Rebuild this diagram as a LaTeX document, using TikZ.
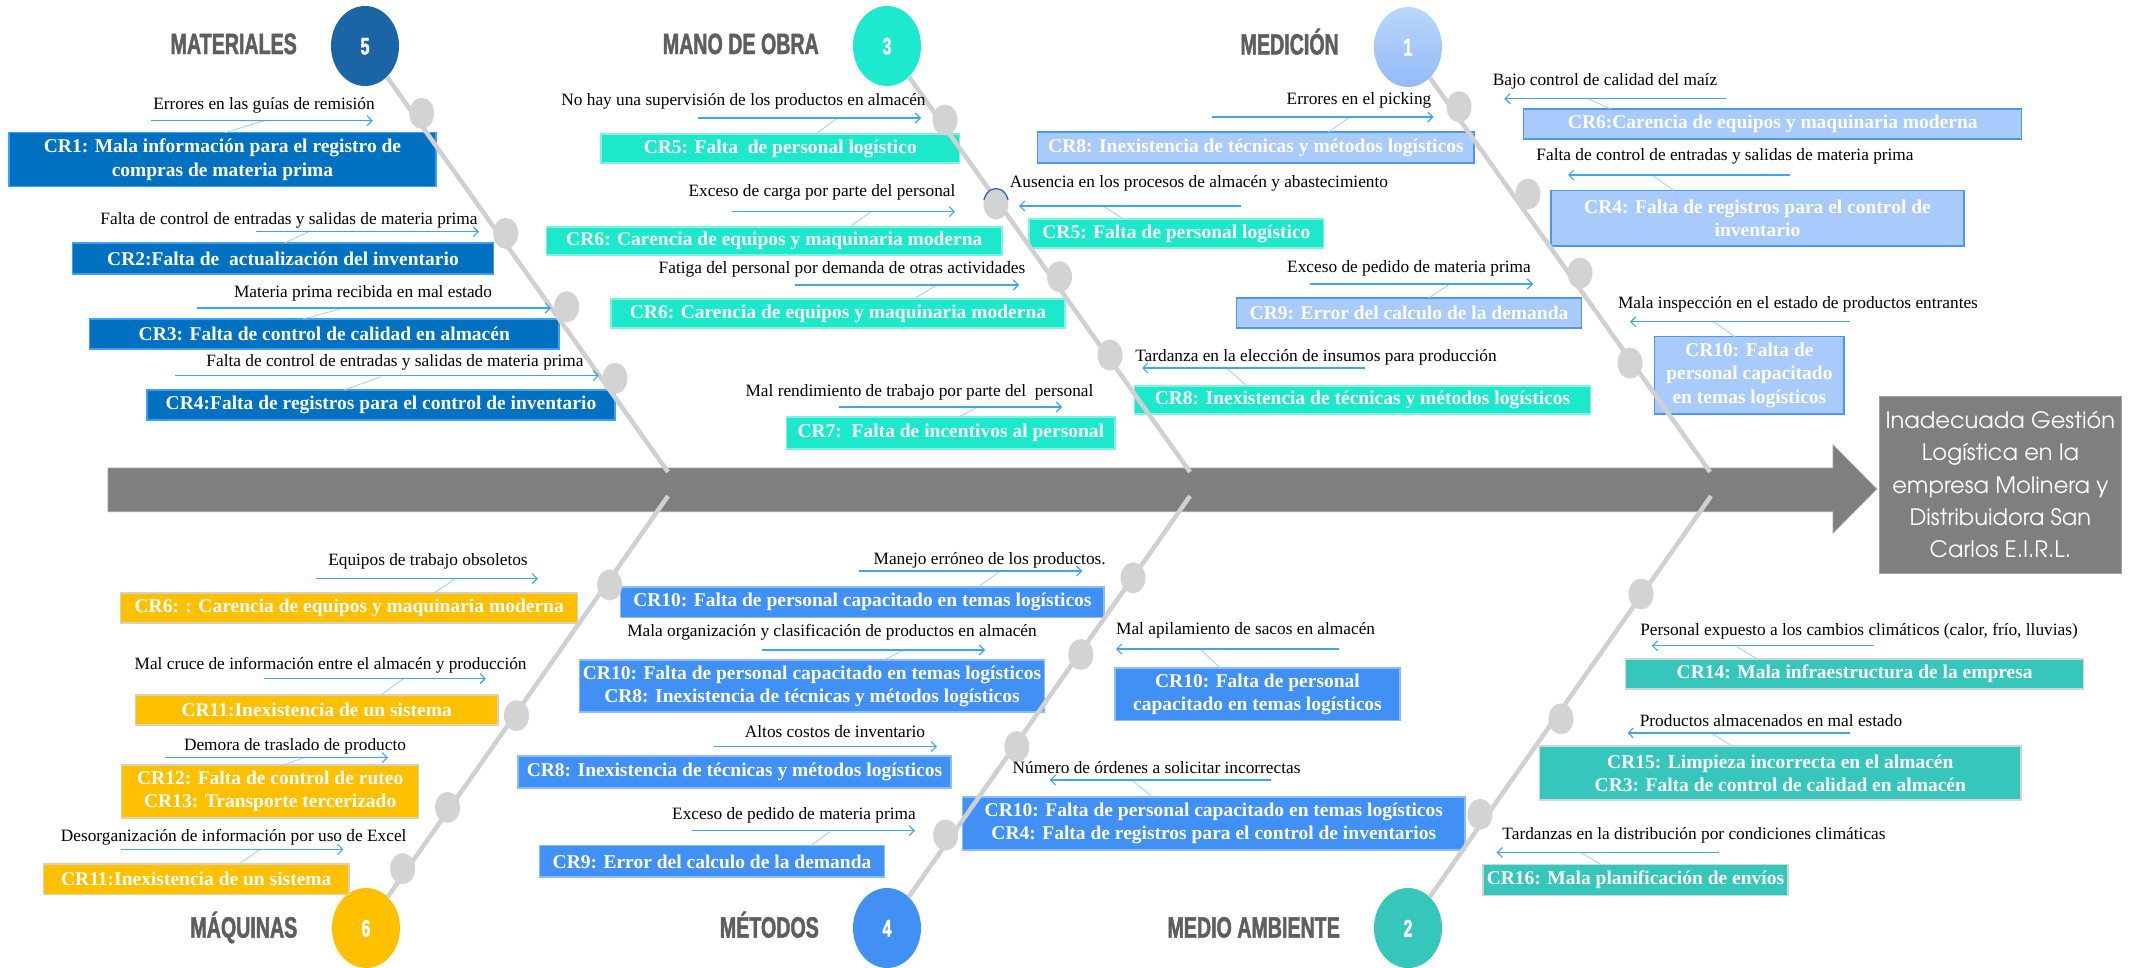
\documentclass[tikz,border=0pt]{standalone}
\usepackage{fontspec}
\setmainfont{Liberation Serif}
\newfontfamily\hdrfont[FakeStretch=0.67,FakeBold=1.6]{Liberation Sans}
\newfontfamily\ttlfont{TeX Gyre Adventor}
\usetikzlibrary{arrows.meta,shapes.geometric}

\definecolor{spinegray}{HTML}{7F7F7F}
\definecolor{spineedge}{HTML}{A0A0A0}
\definecolor{ribgray}{HTML}{D0D0D0}
\definecolor{bonegray}{HTML}{D3D3D3}
\definecolor{hdrgray}{HTML}{5E5E5E}
\definecolor{arrblue}{HTML}{3DA5F4}
\definecolor{slantblue}{HTML}{A3D2F7}
\definecolor{darkarc}{HTML}{2B5C9E}
\definecolor{matblue}{HTML}{0070C0}
\definecolor{matedge}{HTML}{3FA0F0}
\definecolor{mobcyan}{HTML}{1EE8CC}
\definecolor{mobedge}{HTML}{7FF2E2}
\definecolor{medlight}{HTML}{A9CBFC}
\definecolor{mededge}{HTML}{4A98F2}
\definecolor{maqgold}{HTML}{FFC000}
\definecolor{maqedge}{HTML}{D9D2B8}
\definecolor{metblue}{HTML}{4090F6}
\definecolor{metedge}{HTML}{8DBBF7}
\definecolor{mamteal}{HTML}{37C6BB}
\definecolor{mamedge}{HTML}{C9D9D6}
\definecolor{cfive}{HTML}{1B65A6}
\definecolor{cthree}{HTML}{1DE9CF}
\definecolor{conetop}{HTML}{BAD6FC}
\definecolor{conebot}{HTML}{92BBF7}
\definecolor{csix}{HTML}{FFC000}
\definecolor{cfour}{HTML}{4290F5}
\definecolor{ctwo}{HTML}{37C6BB}

% cause arrow with the short slanted tie to its box
\newcommand\cstep[5]{%
  \coordinate (#1a) at (#2); \coordinate (#1b) at (#3);
  \coordinate (#1c) at (#4); \coordinate (#1d) at (#5);
  \draw[slant] (#1c) -- (#1d);
  \draw[larr] (#1a) -- (#1b);}
\newcommand\carrow[3]{%
  \coordinate (#1a) at (#2); \coordinate (#1b) at (#3);
  \draw[larr] (#1a) -- (#1b);}

\begin{document}
\begin{tikzpicture}[x=1pt,y=-1pt,
  lab/.style={font=\fontsize{17.3}{20}\selectfont, inner sep=0pt, text height=12pt, text depth=4pt},
  crbox/.style={font=\fontsize{19.5}{23.2}\selectfont\bfseries, text=white, align=center, inner sep=0pt, line width=1.2pt},
  mat/.style={crbox, fill=matblue, draw=matedge},
  mob/.style={crbox, fill=mobcyan, draw=mobedge},
  med/.style={crbox, fill=medlight, draw=mededge},
  maq/.style={crbox, fill=maqgold, draw=maqedge},
  met/.style={crbox, fill=metblue, draw=metedge},
  mam/.style={crbox, fill=mamteal, draw=mamedge},
  larr/.style={arrblue, line width=1.1pt, -{Straight Barb[length=5pt,width=10pt]}},
  slant/.style={slantblue, line width=0.9pt},
  rib/.style={ribgray, line width=4.5pt},
  bone/.style={ellipse, fill=bonegray, minimum width=25pt, minimum height=31pt, inner sep=0pt},
  num/.style={ellipse, minimum width=68pt, minimum height=80pt, inner sep=0pt, text=white,
    font=\hdrfont\bfseries\fontsize{24}{24}\selectfont, text height=17pt, text depth=0pt},
  hdr/.style={text=hdrgray, font=\hdrfont\bfseries\fontsize{29.3}{30}\selectfont, anchor=east,
    inner sep=0pt, text height=21pt, text depth=0pt},
]
\useasboundingbox (0,0) rectangle (2131,967);

% spine
\fill[spinegray, draw=spineedge, line width=0.8pt]
  (108,468) -- (1833,468) -- (1833,445) -- (1876.7,489) -- (1833,533) -- (1833,511.7) -- (108,511.7) -- cycle;

% effect
\node[fill=spinegray, draw=spineedge, line width=1pt, minimum width=242.7pt, minimum height=177pt,
  text=white, align=center, inner sep=0pt, font=\ttlfont\fontsize{22.6}{32.3}\selectfont]
  (effect) at (2000.4,484.5) {Inadecuada Gestión\\Logística en la\\empresa Molinera y\\Distribuidora San\\Carlos E.I.R.L.};

% category circles
\node[num, fill=cfive] (c5) at (365,46) {5};
\node[num, fill=cthree] (c3) at (887,46) {3};
\node[num, top color=conetop, bottom color=conebot] (c1) at (1408,47) {1};
\node[num, fill=csix] (c6) at (366,928) {6};
\node[num, fill=cfour] (c4) at (887,928) {4};
\node[num, fill=ctwo] (c2) at (1408,928) {2};

% category headings
\node[hdr] (h5) at (297,43.5) {MATERIALES};
\node[hdr] (h3) at (819,43.5) {MANO DE OBRA};
\node[hdr] (h1) at (1339,44) {MEDICIÓN};
\node[hdr] (h6) at (297.5,927) {MÁQUINAS};
\node[hdr] (h4) at (819,927) {MÉTODOS};
\node[hdr] (h2) at (1340,927) {MEDIO AMBIENTE};

% ---------- boxes ----------
% Materiales
\node[mat, minimum width=427pt, minimum height=54pt] (cr1) at (222.5,159.7) {CR1: Mala información para el registro de\\compras de materia prima};
\node[mat, minimum width=421pt, minimum height=31pt] (cr2) at (283,258.5) {CR2:Falta de\ \ actualización del inventario};
\node[mat, minimum width=469.5pt, minimum height=30pt] (cr3) at (324.3,334) {CR3: Falta de control de calidad en almacén};
\node[mat, minimum width=468pt, minimum height=30pt] (cr4) at (381,405) {CR4:Falta de registros para el control de inventario};
% Mano de obra
\node[mob, minimum width=358.6pt, minimum height=29pt] (cr5a) at (780.3,148.5) {CR5: Falta\ \ de personal logístico};
\node[mob, minimum width=455.3pt, minimum height=28pt] (cr6a) at (774.3,241) {CR6: Carencia de equipos y maquinaria moderna};
\node[mob, minimum width=454pt, minimum height=29pt] (cr6b) at (838,313.5) {CR6: Carencia de equipos y maquinaria moderna};
\node[mob, minimum width=328.4pt, minimum height=32pt] (cr7) at (950.8,433) {CR7:\ \ Falta de incentivos al personal};
\node[mob, minimum width=294.7pt, minimum height=29pt] (cr5b) at (1176.4,233.5) {CR5: Falta de personal logístico};
\node[mob, minimum width=456pt, minimum height=28pt] (cr8a) at (1362.5,400) {CR8: Inexistencia de técnicas y métodos logísticos};
% Medición
\node[med, minimum width=436.3pt, minimum height=31pt] (cr8b) at (1255.9,147.5) {CR8: Inexistencia de técnicas y métodos logísticos};
\node[med, minimum width=345pt, minimum height=30pt] (cr9a) at (1409,313) {CR9: Error del calculo de la demanda};
\node[med, minimum width=498pt, minimum height=30pt] (cr6c) at (1772.8,124) {CR6:Carencia de equipos y maquinaria moderna};
\node[med, minimum width=413pt, minimum height=55.3pt] (cr4b) at (1757.5,218.3) {CR4: Falta de registros para el control de\\inventario};
\node[med, minimum width=189.2pt, minimum height=77.3pt] (cr10a) at (1749.4,375.3) {CR10: Falta de\\personal capacitado\\en temas logísticos};
% Máquinas
\node[maq, minimum width=456.8pt, minimum height=30pt] (cr6d) at (349.2,608) {CR6: : Carencia de equipos y maquinaria moderna};
\node[maq, minimum width=362.6pt, minimum height=30pt] (cr11a) at (316.7,710) {CR11:Inexistencia de un sistema};
\node[maq, minimum width=297pt, minimum height=53pt] (cr12) at (270.2,791.5) {CR12: Falta de control de ruteo\\CR13: Transporte tercerizado};
\node[maq, minimum width=305.4pt, minimum height=30.5pt] (cr11b) at (196.3,879.3) {CR11:Inexistencia de un sistema};
% Métodos
\node[met, minimum width=483.2pt, minimum height=30.5pt] (cr10b) at (862.4,602.3) {CR10: Falta de personal capacitado en temas logísticos};
\node[met, minimum width=465pt, minimum height=52pt] (cr10c) at (812,686) {CR10: Falta de personal capacitado en temas logísticos\\CR8: Inexistencia de técnicas y métodos logísticos};
\node[met, minimum width=433pt, minimum height=32pt] (cr8c) at (734.5,772) {CR8: Inexistencia de técnicas y métodos logísticos};
\node[met, minimum width=345pt, minimum height=31.3pt] (cr9b) at (712,861.4) {CR9: Error del calculo de la demanda};
\node[met, minimum width=285pt, minimum height=52.7pt] (cr10d) at (1257.5,694.4) {CR10: Falta de personal\\capacitado en temas logísticos};
\node[met, minimum width=502.4pt, minimum height=53pt] (cr10e) at (1213.8,823.5) {CR10: Falta de personal capacitado en temas logísticos\\CR4: Falta de registros para el control de inventarios};
% Medio ambiente
\node[mam, minimum width=457.9pt, minimum height=30pt] (cr14) at (1854.7,674) {CR14: Mala infraestructura de la empresa};
\node[mam, minimum width=481.4pt, minimum height=54pt] (cr15) at (1780.3,773) {CR15: Limpieza incorrecta en el almacén\\CR3: Falta de control de calidad en almacén};
\node[mam, minimum width=305pt, minimum height=30.7pt] (cr16) at (1635.5,880) {CR16: Mala planificación de envíos};

% ---------- ribs ----------
\coordinate (r5) at (668,472);  \coordinate (r3) at (1190,472);  \coordinate (r1) at (1710,472);
\coordinate (r6) at (668,496);  \coordinate (r4) at (1190,496);  \coordinate (r2) at (1711,496);
\draw[rib] (c5) -- (r5);
\draw[rib] (c3) -- (r3);
\draw[rib] (c1) -- (r1);
\draw[rib] (c6) -- (r6);
\draw[rib] (c4) -- (r4);
\draw[rib] (c2) -- (r2);

% ---------- bones ----------
\node[bone] (bm1) at (421.7,113.3) {};
\node[bone] (bm2) at (505.7,233.3) {};
\node[bone] (bm3) at (566.7,306.7) {};
\node[bone] (bm4) at (615,378.3) {};
\node[bone] (bo1) at (945,120) {};
\node[bone] (bo2) at (996,204) {};
\node[bone] (bo3) at (1059.5,276.7) {};
\node[bone] (bo4) at (1110,355) {};
\node[bone] (bd1) at (1459,106.7) {};
\node[bone] (bd2) at (1528,194) {};
\node[bone] (bd3) at (1580,273) {};
\node[bone] (bd4) at (1630,363) {};
\node[bone] (bq1) at (609.7,585) {};
\node[bone] (bq2) at (516.5,715.6) {};
\node[bone] (bq3) at (447.6,807.4) {};
\node[bone] (bq4) at (402.7,868.6) {};
\node[bone] (bt1) at (1133,577.8) {};
\node[bone] (bt2) at (1080.8,654.5) {};
\node[bone] (bt3) at (1016.8,746.6) {};
\node[bone] (bt4) at (945.6,835) {};
\node[bone] (ba1) at (1641,594) {};
\node[bone] (ba2) at (1561,718.8) {};
\node[bone] (ba3) at (1480,814.3) {};
% dark rim over the top of one bone
\begin{scope}
  \clip (980,180) rectangle (1013,199);
  \draw[darkarc, line width=1.2pt] (bo2.center) ellipse [x radius=12.5pt, y radius=15.5pt];
\end{scope}

% ---------- cause labels ----------
% Materiales
\node[lab] (lm1) at (264,105) {Errores en las guías de remisión};
\node[lab] (lm2) at (289,220) {Falta de control de entradas y salidas de materia prima};
\node[lab] (lm3) at (363,293.5) {Materia prima recibida en mal estado};
\node[lab] (lm4) at (395,362.5) {Falta de control de entradas y salidas de materia prima};
\cstep{am1}{150.6,120.7}{372.8,120.7}{264,120.7}{225,132.7}
\cstep{am2}{256,231.7}{479,231.7}{308.5,231.7}{284.7,243}
\cstep{am3}{196.5,308}{551,308}{344,308}{303,319}
\cstep{am4}{174.5,375.7}{599,375.7}{381,376.7}{344,390}
% Mano de obra
\node[lab] (lo1) at (743.5,101.5) {No hay una supervisión de los productos en almacén};
\node[lab] (lo2) at (822,192.5) {Exceso de carga por parte del personal};
\node[lab] (lo3) at (842,269.5) {Fatiga del personal por demanda de otras actividades};
\node[lab] (lo4) at (919.5,392) {Mal rendimiento de trabajo por parte del\ \ personal};
\node[lab] (lo5) at (1199,183.5) {Ausencia en los procesos de almacén y abastecimiento};
\node[lab] (lo6) at (1316,357) {Tardanza en la elección de insumos para producción};
\cstep{ao1}{698,118}{921,118}{837.5,118}{815.7,134}
\cstep{ao2}{732,211.7}{955,211.7}{871,211.7}{849.6,227}
\cstep{ao3}{795,285}{1019,285}{937,285}{913.6,299}
\cstep{ao4}{839,407}{1062,407}{978,407}{958.7,417}
\cstep{ao5}{1240.6,206}{1019,206}{1104,206.7}{1123.5,219}
\cstep{ao6}{1365,368}{1142,368}{1227.7,369}{1247,386}
% Medición
\node[lab] (ld1) at (1359,100.5) {Errores en el picking};
\node[lab] (ld2) at (1409,268.5) {Exceso de pedido de materia prima};
\node[lab] (ld3) at (1605,81) {Bajo control de calidad del maíz};
\node[lab] (ld4) at (1725,156.5) {Falta de control de entradas y salidas de materia prima};
\node[lab] (ld5) at (1798,304.5) {Mala inspección en el estado de productos entrantes};
\cstep{ad1}{1212,117}{1433.5,117}{1349.8,117}{1328.6,132}
\cstep{ad2}{1310,284}{1533,284}{1450,284}{1428.6,298}
\cstep{ad3}{1725.8,98.7}{1504.4,98.7}{1589,99}{1610.6,109}
\cstep{ad4}{1789.5,175}{1568,175}{1653,175.7}{1674,190.7}
\cstep{ad5}{1850,321.7}{1630,321.7}{1713.7,321.7}{1735,336.7}
% Máquinas
\node[lab] (lq1) at (428,561.5) {Equipos de trabajo obsoletos};
\node[lab] (lq2) at (330.6,665) {Mal cruce de información entre el almacén y producción};
\node[lab] (lq3) at (295,746.5) {Demora de traslado de producto};
\node[lab] (lq4) at (233.7,837.6) {Desorganización de información por uso de Excel};
\cstep{aq1}{316,578.5}{538,578.5}{454.5,579.5}{434,593}
\cstep{aq2}{264,678.7}{485.8,678.7}{403,679}{381,695}
\cstep{aq3}{165,757.6}{388,757.6}{304,757.6}{283.7,765}
\cstep{aq4}{120.8,849.4}{343.4,849.4}{259.4,850}{238.8,864}
% Métodos
\node[lab] (lt1) at (989.7,560) {Manejo erróneo de los productos.};
\node[lab] (lt2) at (832,632.5) {Mala organización y clasificación de productos en almacén};
\node[lab] (lt3) at (835,733.4) {Altos costos de inventario};
\node[lab] (lt4) at (794,815.7) {Exceso de pedido de materia prima};
\node[lab] (lt5) at (1245.6,630) {Mal apilamiento de sacos en almacén};
\node[lab] (lt6) at (1156.6,769.5) {Número de órdenes a solicitar incorrectas};
\cstep{at1}{859.3,571}{1082.3,571}{999,571.8}{978,587}
\cstep{at2}{762,650}{985,650}{902,650.8}{884.5,660}
\carrow{at3}{714,746.6}{937,746.6}
\cstep{at4}{692,830.6}{915,830.6}{830,831.6}{810.8,845.7}
\cstep{at5}{1339,649}{1116,649}{1201,650}{1220.4,668}
\cstep{at6}{1271,780}{1049.8,780}{1133,781}{1152.6,797}
% Medio ambiente
\node[lab] (la1) at (1859,631.6) {Personal expuesto a los cambios climáticos (calor, frío, lluvias)};
\node[lab] (la2) at (1771,722.6) {Productos almacenados en mal estado};
\node[lab] (la3) at (1694,835) {Tardanzas en la distribución por condiciones climáticas};
\cstep{aa1}{1874,645.8}{1651.8,645.8}{1736.7,646.6}{1757,659}
\cstep{aa2}{1850,733}{1627.5,733}{1712.4,733.8}{1731.9,746}
\cstep{aa3}{1718.5,852.5}{1496.6,852.5}{1581.5,853}{1601.5,864.8}
\end{tikzpicture}
\end{document}
